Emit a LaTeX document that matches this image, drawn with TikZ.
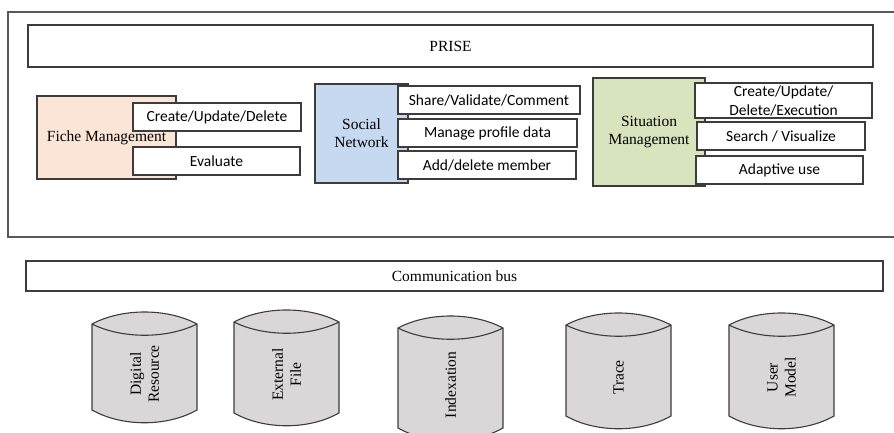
\documentclass[tikz,border=0pt]{standalone}
\usepackage{fontspec}
\setmainfont{Liberation Serif}
\setsansfont{Carlito}
\usepackage{xcolor}
\usepackage{tikz}
\usetikzlibrary{positioning}

\definecolor{fichecol}{RGB}{251,229,214}
\definecolor{socialcol}{RGB}{198,217,240}
\definecolor{situcol}{RGB}{215,228,189}
\definecolor{dbcol}{RGB}{217,215,215}
\definecolor{edgecol}{RGB}{60,60,60}

\begin{document}
\begin{tikzpicture}[x=1pt, y=-1pt,
    box/.style={draw=edgecol, line width=1.1pt, inner sep=0pt, fill=white},
    serif/.style={font=\fontsize{15.5}{18}\selectfont\rmfamily, align=center},
    action/.style={box, font=\fontsize{15.5}{19}\selectfont\sffamily, align=center},
    dbcyl/.style={draw=edgecol, line width=1.1pt, fill=dbcol}]
    \useasboundingbox (0,0) rectangle (894,433);

    % PRISE frame (open on the right)
    \draw[gray!70!black, line width=1.3pt] (900,12) -- (8,12) -- (8,237) -- (900,237);

    \node[box, serif, minimum width=845, minimum height=42] (prise) at (450.5,46) {PRISE};

    \node[box, serif, fill=fichecol, minimum width=139, minimum height=83] (fiche) at (106.5,137.5) {Fiche Management};
    \node[action, minimum width=168, minimum height=28] (cud) at (217,117) {Create/Update/Delete};
    \node[action, minimum width=167, minimum height=28] (evaluate) at (216.5,161) {Evaluate};

    \node[box, serif, fill=socialcol, minimum width=93, minimum height=99] (social) at (361.5,133.5) {Social\\Network};
    \node[action, minimum width=182, minimum height=28] (share) at (489,100) {Share/Validate/Comment};
    \node[action, minimum width=179, minimum height=28] (profile) at (487.5,133) {Manage profile data};
    \node[action, minimum width=178, minimum height=28] (member) at (487,165) {Add/delete member};

    \node[box, serif, fill=situcol, minimum width=112, minimum height=108] (situation) at (649,132) {Situation\\Management};
    \node[action, minimum width=177, minimum height=35] (cude) at (783.5,100.5) {Create/Update/\\Delete/Execution};
    \node[action, minimum width=168, minimum height=28] (search) at (781,136) {Search / Visualize};
    \node[action, minimum width=167, minimum height=28] (adaptive) at (779.5,170) {Adaptive use};

    \node[box, serif, minimum width=857, minimum height=30] (bus) at (454.5,276) {Communication bus};

    % data stores
    \foreach \name/\xl/\yt/\yb/\txt in {digital/92/324/410/{Digital\\Resource},
                                       external/234/322/413/{External\\File},
                                       index/398/328/428/{Indexation},
                                       trace/566/325/416/{Trace},
                                       usermodel/729/325/416/{User\\Model}} {
        \draw[dbcyl] (\xl,\yt) .. controls (\xl+30,\yt-16) and (\xl+75,\yt-16) .. (\xl+105,\yt)
            -- (\xl+105,\yb) .. controls (\xl+75,\yb+17) and (\xl+30,\yb+17) .. (\xl,\yb) -- cycle;
        \draw[draw=edgecol, line width=1.1pt] (\xl,\yt) .. controls (\xl+30,\yt+15) and (\xl+75,\yt+15) .. (\xl+105,\yt);
        \node[serif, rotate=90] (\name) at (\xl+52.5,{(\yt+\yb)/2+7}) {\txt};
    }
\end{tikzpicture}
\end{document}
